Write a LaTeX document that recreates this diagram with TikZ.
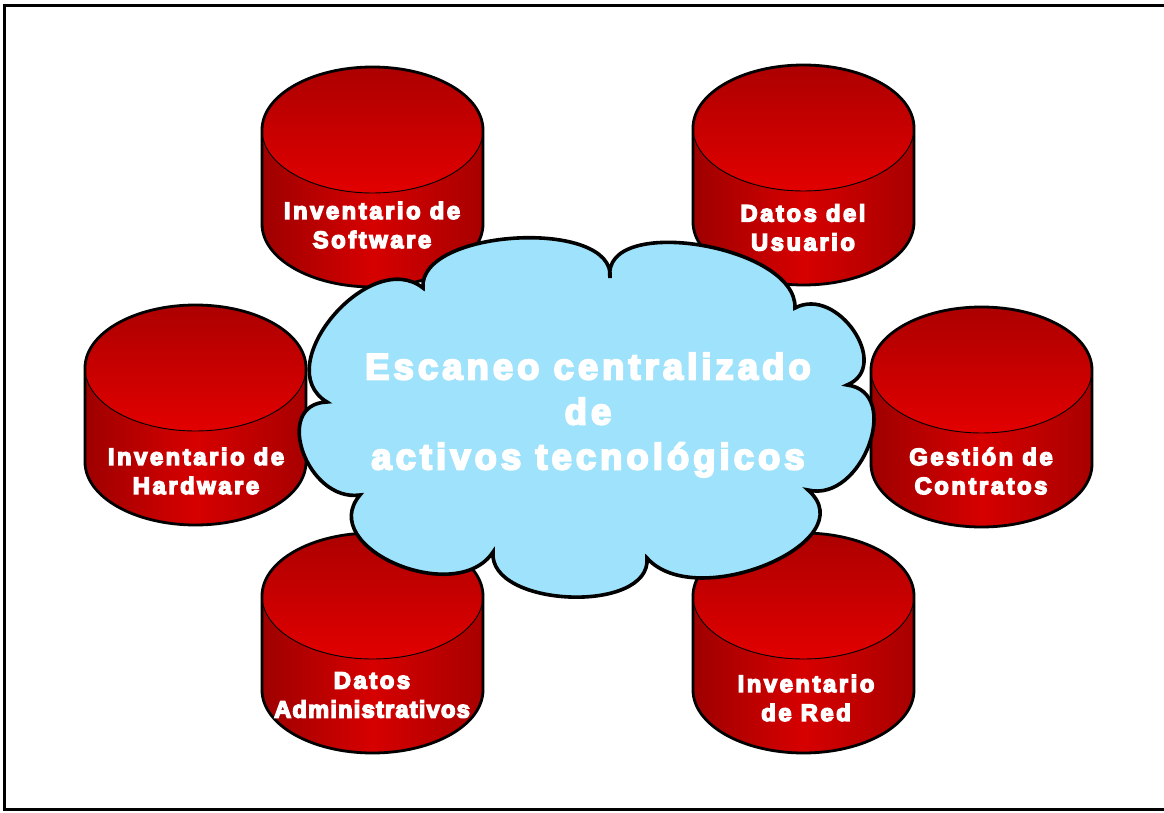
\documentclass[tikz,border=0pt]{standalone}
\usepackage{fontspec}
\setmainfont{Liberation Sans}
\newfontfamily\labfont[LetterSpace=11, FakeBold=6]{Liberation Sans Bold}
\newfontfamily\cloudfont[LetterSpace=11, FakeBold=5.5]{Liberation Sans Bold}
\usetikzlibrary{calc}
\definecolor{bodyL}{RGB}{158,0,0}
\definecolor{bodyM}{RGB}{214,0,0}
\definecolor{bodyR}{RGB}{168,0,0}
\definecolor{topT}{RGB}{172,0,0}
\definecolor{topB}{RGB}{226,0,0}
\definecolor{cloudblue}{RGB}{158,226,251}
\tikzset{
  lab/.style={text=white, align=center, font=\labfont\fontsize{23.7}{29}\selectfont},
  cloudtxt/.style={text=white, align=center, font=\cloudfont\fontsize{36.5}{45}\selectfont},
  cloudline/.style={fill=cloudblue, draw=black, line width=3.6pt, line join=miter},
  cb/.style n args={3}{insert path={.. controls ($0.3633*(#1)+1.3333*(#2)-0.6967*(#3)$) and ($0.3633*(#3)+1.3333*(#2)-0.6967*(#1)$) .. (#3)}},
  cyl/.pic={
    \shade[left color=bodyL, right color=bodyR, middle color=bodyM]
      (-110.5,0) -- (-110.5,-94) arc[start angle=180,end angle=360,x radius=110.5pt,y radius=63pt] -- (110.5,0) -- cycle;
    \shade[top color=topT, bottom color=topB] (0,0) ellipse[x radius=110.5pt, y radius=63pt];
    \draw[line width=0.9pt] (0,0) ellipse[x radius=110.5pt, y radius=63pt];
    \draw[line width=2.8pt, line join=round]
      (-110.5,-94) -- (-110.5,0) arc[start angle=180,end angle=0,x radius=110.5pt,y radius=63pt]
      -- (110.5,-94) arc[start angle=0,end angle=-180,x radius=110.5pt,y radius=63pt] -- cycle;
  }
}
\begin{document}
\begin{tikzpicture}[x=1pt,y=1pt]
\useasboundingbox (0,0) rectangle (1164,812);
\fill[white] (0,0) rectangle (1164,812);
\begin{scope}
\clip (0,0) rectangle (1164,812);
\draw[line width=3pt] (4.5,3) rectangle (1190,806.5);
\end{scope}

% cylinders
\pic at (372.5,682) {cyl};
\pic at (803.5,684) {cyl};
\pic at (195.5,444) {cyl};
\pic at (981.5,442) {cyl};
\pic at (372.5,216) {cyl};
\pic at (803.5,216) {cyl};

\node[lab] (sw) at (372,587) {Inventario de\\Software};
\node[lab] (us) at (803,584.5) {Datos del\\Usuario};
\node[lab] (hw) at (196,341) {Inventario de\\Hardware};
\node[lab] (gc) at (981,341) {Gestión de\\Contratos};
\node[lab] (ad) at (372,117) {Datos\\{\addfontfeature{LetterSpace=5}Administrativos}};
\node[lab] (rd) at (806,114) {Inventario\\de Red};

% cloud
\coordinate (c1) at (423,524);
\coordinate (c2) at (610,534);
\coordinate (c3) at (795,504);
\coordinate (c4) at (847,427);
\coordinate (c5) at (808,322);
\coordinate (c6) at (647,254);
\coordinate (c7) at (493,260);
\coordinate (c8) at (360,317);
\coordinate (c9) at (327,410);
\coordinate (q1) at (333,496);
\coordinate (q2) at (517,574);
\coordinate (q3) at (700,567);
\coordinate (q4) at (854,481);
\coordinate (q5) at (869,367);
\coordinate (q6) at (768,248);
\coordinate (q7) at (570,215);
\coordinate (q8) at (396,248);
\coordinate (q9) at (303,360);
\draw[cloudline] (c9) [cb={c9}{q1}{c1}] [cb={c1}{q2}{c2}] [cb={c2}{q3}{c3}]
  [cb={c3}{q4}{c4}] [cb={c4}{q5}{c5}] [cb={c5}{q6}{c6}] [cb={c6}{q7}{c7}]
  [cb={c7}{q8}{c8}] [cb={c8}{q9}{c9}] -- cycle;

\node[cloudtxt] (ct) at (588,397) {Escaneo centralizado\\de\\activos tecnológicos};
\end{tikzpicture}
\end{document}
